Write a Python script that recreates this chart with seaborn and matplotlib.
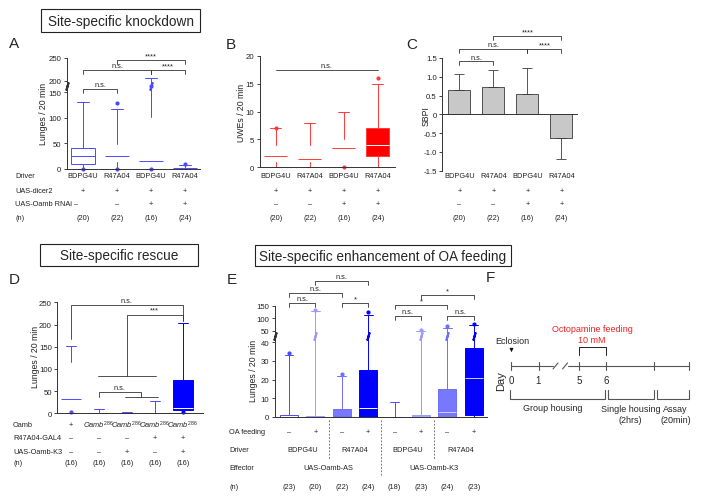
import numpy as np
import pandas as pd
import seaborn as sns
import matplotlib
matplotlib.use("Agg")
import matplotlib.pyplot as plt
from matplotlib.transforms import blended_transform_factory as btf
from matplotlib.patches import Rectangle

# ---------------- data ----------------
KD_drivers = ["BDPG4U", "R47A04", "BDPG4U", "R47A04"]
KD_dicer = ["+", "+", "+", "+"]
KD_rnai = ["–", "–", "+", "+"]
KD_n = ["(20)", "(22)", "(16)", "(24)"]

A_whislo = [0, 0, 0, 0]
A_q1 = [10, 13, 0, 0]
A_med = [25, 26, 16, 1]
A_q3 = [40, 48, 102, 2]
A_whishi = [130, 117, 207, 8]
A_fliers = [[0], [0, 129], [0, 180], [9]]
A_ticks = [0, 50, 100, 150, 200, 250]

B_whislo = [0, 0, 0, 0]
B_q1 = [1, 1, 0, 2]
B_med = [2, 1.5, 3.5, 4]
B_q3 = [4, 4, 5, 7]
B_whishi = [7, 8, 10, 15]
B_fliers = [[7], [], [0], [16]]
B_ticks = [0, 5, 10, 15, 20]

C_sbpi = [0.66, 0.74, 0.54, -0.63]
C_err = [0.42, 0.43, 0.70, 0.57]
C_ticks = [-1.5, -1.0, -0.5, 0, 0.5, 1.0, 1.5]
C_ticklabels = ["-1.5", "-1.0", "-0.5", "0", "0.5", "1.0", "1.5"]

D_oamb = ["+", r"$\mathit{Oamb}^{\mathregular{286}}$", r"$\mathit{Oamb}^{\mathregular{286}}$",
          r"$\mathit{Oamb}^{\mathregular{286}}$", r"$\mathit{Oamb}^{\mathregular{286}}$"]
D_gal4 = ["–", "–", "–", "+", "+"]
D_k3 = ["–", "–", "+", "–", "+"]
D_n = ["(16)", "(16)", "(16)", "(16)", "(16)"]
D_whislo = [0, 0, 0, 0, 0]
D_q1 = [3, 0, 0, 0, 8]
D_med = [33, 1, 1, 0, 13]
D_q3 = [115, 2, 2, 1, 76]
D_whishi = [152, 9, 4, 27, 203]
D_fliers = [[2], [], [], [], [3]]
D_ticks = [0, 50, 100, 150, 200, 250]

E_oa = ["–", "+", "–", "+", "–", "+", "–", "+"]
E_driver = ["BDPG4U", "R47A04", "BDPG4U", "R47A04"]
E_effector = ["UAS-Oamb-AS", "UAS-Oamb-K3"]
E_n = ["(23)", "(20)", "(22)", "(24)", "(18)", "(23)", "(24)", "(23)"]
E_whislo = [0, 0, 0, 0, 0, 0, 0, 0]
E_q1 = [0, 0, 0, 0, 0, 0, 0, 1]
E_med = [0, 0, 0.3, 5, 0, 0, 2.5, 21]
E_q3 = [1, 0.5, 4.3, 25, 0, 1, 15, 37]
E_whishi = [33, 130, 22, 114, 8, 48, 60, 72]
E_fliers = [[34], [133], [23], [123], [], [52], [68], [76]]
E_ticks = [0, 10, 20, 30, 40, 50, 100, 150]

F_days = ["0", "1", "5", "6"]

# ---------------- style ----------------
sns.set_style("ticks")
plt.rcParams["font.family"] = ["Liberation Sans", "DejaVu Sans"]
plt.rcParams["mathtext.fontset"] = "custom"
plt.rcParams["mathtext.rm"] = "Liberation Sans"
plt.rcParams["mathtext.it"] = "Liberation Sans:italic"
plt.rcParams["axes.linewidth"] = 0.7
plt.rcParams["axes.edgecolor"] = "#333333"

W, H = 701, 502
fig = plt.figure(figsize=(W / 100, H / 100), dpi=100)
ov = fig.add_axes([0, 0, 1, 1])
ov.set_xlim(0, W)
ov.set_ylim(H, 0)
ov.axis("off")

FS = 5.3
LC = "#333333"


def px_axes(x0, y0, x1, y1):
    return fig.add_axes([x0 / W, 1 - y1 / H, (x1 - x0) / W, (y1 - y0) / H])


def broken_scale(ax, dpts, ppts):
    d = np.asarray(dpts, float)
    p = np.asarray(ppts, float)
    s0 = (p[1] - p[0]) / (d[1] - d[0])
    s1 = (p[-1] - p[-2]) / (d[-1] - d[-2])
    d = np.concatenate([[d[0] - 1e5], d, [d[-1] + 1e5]])
    p = np.concatenate([[p[0] - 1e5 * s0], p, [p[-1] + 1e5 * s1]])
    ax.set_yscale("function", functions=(lambda v: np.interp(v, d, p),
                                         lambda q: np.interp(q, p, d)))


def style(ax, ticks, labels=None):
    sns.despine(ax=ax)
    ax.set_xticks([])
    ax.set_yticks(ticks)
    ax.set_yticklabels(labels if labels is not None else [str(t) for t in ticks])
    ax.tick_params(axis="y", length=2.5, width=0.6, labelsize=5.6, pad=1.5, colors="#222222")
    ax.set_facecolor("none")


def draw_box(ax, i, q1, med, q3, lo, hi, fl, w, edge, face, medc, show_box, lw=0.7):
    st = [dict(med=med, q1=q1, q3=q3, whislo=lo, whishi=hi, fliers=fl)]
    bp = ax.bxp(st, positions=[i], widths=w, patch_artist=True, manage_ticks=False,
                boxprops=dict(facecolor=face, edgecolor=edge if show_box else "none", linewidth=lw),
                medianprops=dict(color=medc, linewidth=lw),
                whiskerprops=dict(color=edge, linewidth=lw),
                capprops=dict(color=edge, linewidth=lw),
                flierprops=dict(marker="o", markersize=2.0, markerfacecolor=edge,
                                markeredgecolor=edge, linestyle="none"))
    for k in bp:
        for a in bp[k]:
            a.set_clip_on(False)


def tr_of(ax):
    return btf(ax.transData, ov.transData)


def bracket(ax, x1, x2, y, text, drop=4, fs=FS):
    tr = tr_of(ax)
    if drop:
        ax.plot([x1, x1, x2, x2], [y + drop, y, y, y + drop], transform=tr, clip_on=False, color=LC, lw=0.6)
    else:
        ax.plot([x1, x2], [y, y], transform=tr, clip_on=False, color=LC, lw=0.6)
    ax.text((x1 + x2) / 2, y - 0.8, text, transform=tr, ha="center", va="bottom", fontsize=fs, color="#222222")


def row(ax, xs, y, labels, fs=FS):
    tr = tr_of(ax)
    for x, l in zip(xs, labels):
        ax.text(x, y, l, transform=tr, ha="center", va="center", fontsize=fs, color="#222222")


def brk(ax, x, y, color):
    ax.plot([x], [y], marker=r"$/\!\!/$", ms=5, color=color, clip_on=False, zorder=5)


def ylabel(x, y, s, fs=6.3):
    ov.text(x, y, s, rotation=90, ha="center", va="center", fontsize=fs, color="#222222")


def title_box(x0, y0, x1, y1, s):
    ov.add_patch(Rectangle((x0, y0), x1 - x0, y1 - y0, fill=False, ec="#222222", lw=0.8))
    ov.text((x0 + x1) / 2, (y0 + y1) / 2 + 0.5, s, ha="center", va="center", fontsize=9.8)


def letter(x, y, s):
    ov.text(x, y, s, ha="center", va="center", fontsize=11)


# ---------------- titles / letters ----------------
title_box(41, 10, 200, 33, "Site-specific knockdown")
title_box(40, 245, 198, 267, "Site-specific rescue")
title_box(255, 246, 511, 267, "Site-specific enhancement of OA feeding")
letter(14, 44, "A")
letter(231, 45, "B")
letter(412, 45, "C")
letter(14, 280, "D")
letter(232, 280, "E")
letter(490, 278, "F")

ROWS_TOP = [177, 191.5, 205, 219]

# ---------------- A ----------------
axA = px_axes(67, 59, 200, 170)
broken_scale(axA, [0, 160, 190, 250], [0, 82.1, 83.4, 111])
axA.set_ylim(0, 250)
axA.set_xlim(-0.47, 3.44)
style(axA, A_ticks)
A_col = "#4a4aff"
for i in range(4):
    draw_box(axA, i, A_q1[i], A_med[i], A_q3[i], A_whislo[i], A_whishi[i], A_fliers[i],
             0.68, A_col, "none", A_col, i == 0)
brk(axA, -0.47, 175, LC)
brk(axA, 2, 175, A_col)
bracket(axA, 0, 1, 90, "n.s.")
bracket(axA, 0, 2, 71, "n.s.")
bracket(axA, 2, 3, 71, "****")
bracket(axA, 1, 3, 61, "****")
row(axA, range(4), ROWS_TOP[0], KD_drivers)
row(axA, range(4), ROWS_TOP[1], KD_dicer)
row(axA, range(1, 4), ROWS_TOP[2], KD_rnai[1:])
row(axA, range(4), ROWS_TOP[3], KD_n)
for y, s in zip(ROWS_TOP, ["Driver", "UAS-dicer2", "UAS-Oamb RNAi " + KD_rnai[0], "(n)"]):
    ov.text(15, y, s, ha="left", va="center", fontsize=FS, color="#222222")
ylabel(43, 114, "Lunges / 20 min")

# ---------------- B ----------------
axB = px_axes(260, 57, 395, 168.3)
axB.set_ylim(0, 20)
axB.set_xlim(-0.46, 3.51)
style(axB, B_ticks)
B_col = "#ff3a3a"
for i in range(4):
    filled = i == 3
    draw_box(axB, i, B_q1[i], B_med[i], B_q3[i], B_whislo[i], B_whishi[i], B_fliers[i],
             0.67, B_col, "#ff0000" if filled else "none", "white" if filled else B_col, filled)
bracket(axB, 0, 3, 71, "n.s.", drop=0)
row(axB, range(4), ROWS_TOP[0], KD_drivers)
row(axB, range(4), ROWS_TOP[1], KD_dicer)
row(axB, range(4), ROWS_TOP[2], KD_rnai)
row(axB, range(4), ROWS_TOP[3], KD_n)
ylabel(242, 113, "UWEs / 20 min")

# ---------------- C ----------------
axC = px_axes(442.3, 59, 576.7, 171.7)
dfC = pd.DataFrame({"g": [0, 1, 2, 3], "sbpi": C_sbpi})
sns.barplot(data=dfC, x="g", y="sbpi", ax=axC, color="#c8c8c8", saturation=1, width=0.65,
            edgecolor="#3a3a3a", linewidth=0.6, errorbar=None)
lower = [e if m < 0 else 0 for m, e in zip(C_sbpi, C_err)]
upper = [e if m > 0 else 0 for m, e in zip(C_sbpi, C_err)]
axC.errorbar(range(4), C_sbpi, yerr=[lower, upper], fmt="none", ecolor="#3a3a3a",
             elinewidth=0.6, capsize=3.5, capthick=0.6)
axC.set_ylim(-1.5, 1.5)
axC.set_xlim(-0.5, 3.45)
style(axC, C_ticks, C_ticklabels)
axC.set_xlabel("")
axC.set_ylabel("")
axC.spines["bottom"].set_position(("data", 0))
bracket(axC, 0, 1, 62.3, "n.s.")
bracket(axC, 0, 2, 50, "n.s.")
bracket(axC, 2, 3, 50, "****")
bracket(axC, 1, 3, 37.3, "****")
row(axC, range(4), ROWS_TOP[0], KD_drivers)
row(axC, range(4), ROWS_TOP[1], KD_dicer)
row(axC, range(4), ROWS_TOP[2], KD_rnai)
row(axC, range(4), ROWS_TOP[3], KD_n)
ylabel(426, 116, "SBPI")

# ---------------- D ----------------
axD = px_axes(57.3, 303.3, 203.3, 414.3)
axD.set_ylim(0, 250)
axD.set_xlim(-0.48, 4.73)
style(axD, D_ticks)
D_col = "#4a4aff"
for i in range(5):
    filled = i == 4
    draw_box(axD, i, D_q1[i], D_med[i], D_q3[i], D_whislo[i], D_whishi[i], D_fliers[i],
             0.71, "#0000ff" if filled else D_col, "#0000ff" if filled else "none",
             "white" if filled else D_col, filled)
trD = tr_of(axD)
axD.plot([0, 0, 4, 4], [340, 306, 306, 321.5], transform=trD, clip_on=False, color=LC, lw=0.6)
axD.text(2, 305.2, "n.s.", transform=trD, ha="center", va="bottom", fontsize=FS)
axD.plot([2, 2, 4, 4], [377, 315.5, 315.5, 321.5], transform=trD, clip_on=False, color=LC, lw=0.6)
axD.text(3, 314.7, "***", transform=trD, ha="center", va="bottom", fontsize=FS)
axD.plot([0.98, 3.05], [377, 377], transform=trD, clip_on=False, color=LC, lw=0.6)
axD.plot([1, 1, 2.5, 2.5], [398, 393, 393, 398], transform=trD, clip_on=False, color=LC, lw=0.6)
axD.text(1.75, 392.2, "n.s.", transform=trD, ha="center", va="bottom", fontsize=FS)
axD.plot([1.95, 3.1], [398, 398], transform=trD, clip_on=False, color=LC, lw=0.6)
ROWS_D = [425.3, 438.7, 452.3, 463.7]
row(axD, range(5), ROWS_D[0], D_oamb)
row(axD, range(5), ROWS_D[1], D_gal4)
row(axD, range(5), ROWS_D[2], D_k3)
row(axD, range(5), ROWS_D[3], D_n)
for y, s in zip(ROWS_D, ["Oamb", "R47A04-GAL4", "UAS-Oamb-K3", "(n)"]):
    ov.text(13, y, s, ha="left", va="center", fontsize=FS, color="#222222")
ylabel(35, 357, "Lunges / 20 min")

# ---------------- E ----------------
axE = px_axes(275, 306.7, 486.7, 418)
broken_scale(axE, [0, 42, 48, 150], [0, 78.54, 85.8, 111.3])
axE.set_ylim(0, 150)
axE.set_xlim(-0.53, 7.49)
style(axE, E_ticks)
E_edge = ["#4a4aff", "#9a9aff", "#6e6eff", "#0000ff", "#4a4aff", "#9a9aff", "#6e6eff", "#0000ff"]
E_face = ["white", "#a8a8ff", "#7878ff", "#0000ff", "none", "#a8a8ff", "#7878ff", "#0000ff"]
E_medc = ["#4a4aff", "#9a9aff", "#6e6eff", "white", "#4a4aff", "#9a9aff", "#d0d0ff", "#d0d0ff"]
for i in range(8):
    draw_box(axE, i, E_q1[i], E_med[i], E_q3[i], E_whislo[i], E_whishi[i], E_fliers[i],
             0.68, E_edge[i], E_face[i], E_medc[i], E_face[i] != "none")
    if E_whishi[i] > 45:
        brk(axE, i, 44, E_edge[i])
brk(axE, -0.53, 44, LC)
for x1, x2, y, s in [(1, 3, 282, "n.s."), (0, 2, 294, "n.s."), (0, 1, 304, "n.s."), (2, 3, 304, "*"),
                     (5, 7, 296, "*"), (4, 6, 306, "*"), (4, 5, 317, "n.s."), (6, 7, 317, "n.s.")]:
    bracket(axE, x1, x2, y, s)
trE = tr_of(axE)
for x, y2 in [(1.5, 460), (3.5, 476), (5.5, 460)]:
    axE.plot([x, x], [421, y2], transform=trE, clip_on=False, color="#555555", lw=0.6, ls=(0, (2, 2)))
ROWS_E = [432.7, 450.7, 469, 487.3]
row(axE, range(8), ROWS_E[0], E_oa)
row(axE, [0.5, 2.5, 4.5, 6.5], ROWS_E[1], E_driver)
row(axE, [1.5, 5.5], ROWS_E[2], E_effector)
row(axE, range(8), ROWS_E[3], E_n)
for y, s in zip(ROWS_E, ["OA feeding", "Driver", "Effector", "(n)"]):
    ov.text(229, y, s, ha="left", va="center", fontsize=FS, color="#222222")
ylabel(253, 371, "Lunges / 20 min")

# ---------------- F ----------------
FC = "#555555"
ov.text(495, 342, "Eclosion", ha="left", va="center", fontsize=6.5)
ov.annotate("", xy=(511.5, 356), xytext=(511.5, 346.5),
            arrowprops=dict(arrowstyle="-|>", color="#111111", lw=0.7, mutation_scale=5))
ov.text(501, 381, "Day", rotation=90, ha="center", va="center", fontsize=8)
ov.plot([511, 553], [367, 367], color=FC, lw=0.8)
ov.plot([568, 689.3], [367, 367], color=FC, lw=0.8)
for x in [555.5, 565]:
    ov.plot([x - 2.5, x + 2.5], [370, 364], color=FC, lw=0.8)
for x in [511, 539, 579, 606.3, 654.3, 689.3]:
    ov.plot([x, x], [362.7, 371.3], color=FC, lw=0.8)
for x, s in zip([511.5, 538.5, 579, 606.3], F_days):
    ov.text(x, 381, s, ha="center", va="center", fontsize=7)
ov.text(592, 329.3, "Octopamine feeding", color="#ee2222", ha="center", va="center", fontsize=6.5)
ov.text(592, 340.7, "10 mM", color="#ee2222", ha="center", va="center", fontsize=6.5)
ov.plot([579, 579, 606.3, 606.3], [356, 347.7, 347.7, 356], color="#222222", lw=0.7)
for a, b in [(510, 605), (607.7, 654.3), (656.7, 689.3)]:
    ov.plot([a, a, b, b], [391, 400, 400, 391], color=FC, lw=0.8)
ov.text(553, 409, "Group housing", ha="center", va="center", fontsize=6.5)
ov.text(630.7, 409.3, "Single housing", ha="center", va="center", fontsize=6.5)
ov.text(630.7, 420.7, "(2hrs)", ha="center", va="center", fontsize=6.5)
ov.text(675.7, 409.3, "Assay", ha="center", va="center", fontsize=6.5)
ov.text(675.7, 420.7, "(20min)", ha="center", va="center", fontsize=6.5)

fig.savefig("out.png", dpi=100)
